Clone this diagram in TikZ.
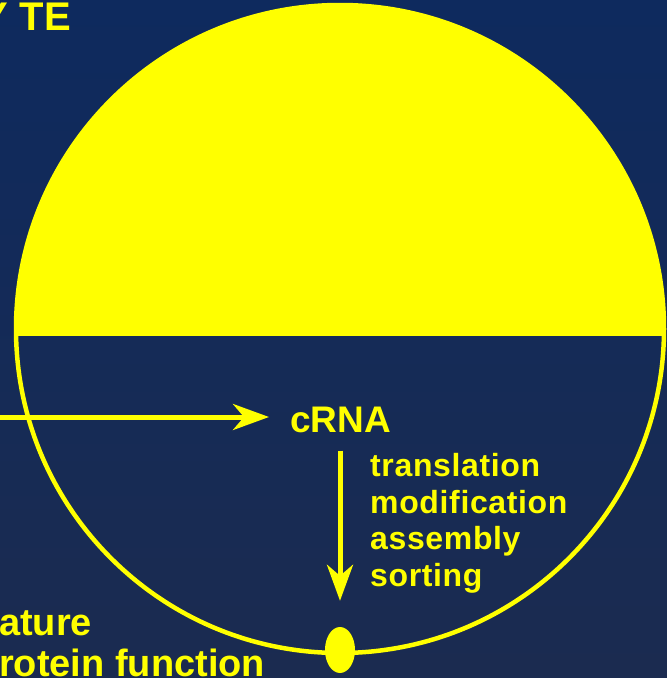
\documentclass[tikz,border=0pt]{standalone}
\usepackage{fontspec}
\setmainfont{Liberation Sans}
\usepackage{xcolor}
\usetikzlibrary{arrows.meta,positioning,calc,shapes.geometric}

\definecolor{slidetop}{RGB}{14,42,94}
\definecolor{slidemid}{RGB}{31,53,97}
\definecolor{slidebot}{RGB}{27,43,80}
\definecolor{cellyellow}{RGB}{255,255,0}

\begin{document}
\begin{tikzpicture}[
    x=1pt, y=-1pt,
    lbl/.style={text=cellyellow, font=\bfseries\fontsize{38}{40}\selectfont, inner sep=0pt},
    arr/.style={-{Stealth[length=36pt,width=26pt,inset=11pt]}, draw=cellyellow, line width=5pt}
]
% background
\shade[top color=slidetop, middle color=slidemid, bottom color=slidebot] (0,0) rectangle (667,678);
\useasboundingbox (0,0) rectangle (667,678);

% cell, upper half filled
\begin{scope}
  \clip (0,0) rectangle (667,335);
  \fill[cellyellow] (340,329) circle[radius=324];
\end{scope}
\draw[cellyellow, line width=4.5pt] (340,329) circle[radius=324];

% clipped titles
\node[lbl, font=\bfseries\fontsize{40}{42}\selectfont, anchor=base east] (title) at (71,30) {Y\kern12pt TE};
\node[lbl, anchor=base west] (mature) at (-1,635) {ature};
\node[lbl, anchor=base west] (function) at (-1,676) {rotein function};

% pore
\node[fill=cellyellow, ellipse, minimum width=30pt, minimum height=46pt, inner sep=0pt] (pore) at (340,650) {};

% cRNA and steps
\node[lbl, font=\bfseries\fontsize{37}{40}\selectfont, anchor=base west] (crna) at (290,432) {cRNA};
\node[lbl, font=\bfseries\fontsize{32}{36.7}\selectfont\addfontfeature{LetterSpace=2}, align=left, anchor=north west] (steps) at (370,453)
  {translation\\modification\\assembly\\sorting};

\coordinate (src) at (0,417);
\draw[arr, shorten >=21pt] (src) -- (src -| crna.west);
\draw[arr, shorten <=18pt, shorten >=26pt] (pore.north |- crna.south) -- (pore.north);
\end{tikzpicture}
\end{document}
